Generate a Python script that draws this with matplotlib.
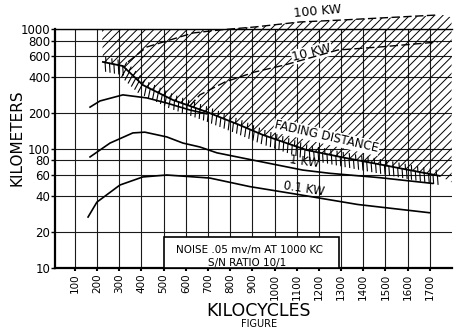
import matplotlib.pyplot as plt
import matplotlib.patheffects as pe
from matplotlib.patches import Rectangle
from matplotlib.ticker import NullLocator

# axis ticks
kc_ticks = [100, 200, 300, 400, 500, 600, 700, 800, 900, 1000,
            1100, 1200, 1300, 1400, 1500, 1600, 1700]
km_ticks = [10, 20, 40, 60, 80, 100, 200, 400, 600, 800, 1000]
km_labels = [str(v) for v in km_ticks]

# 10 kw ground wave range (solid, runs into the fading line)
kc_10kw = [168, 213, 316, 424, 514, 618, 695]
km_10kw = [222, 250, 281, 265, 240, 210, 195]

# 1 kw range
kc_1kw = [168, 258, 361, 415, 514, 587, 663, 740, 902, 1127, 1249, 1474, 1713]
km_1kw = [85, 111, 135, 137, 125, 111, 103, 92, 80, 66, 62, 57, 51]

# 0.1 kw range
kc_01kw = [159, 199, 303, 406, 514, 708, 888, 1114, 1375, 1699]
km_01kw = [26.7, 35.6, 49.5, 57.8, 60, 56.6, 48, 41, 34, 29]

# fading distance
kc_fade = [226, 316, 406, 541, 695, 843, 947, 1145, 1325, 1519, 1744]
km_fade = [530, 490, 340, 255, 202, 157, 130, 97, 83, 71, 59]

# ranges inside the fading zone (dashed)
kc_100kw = [339, 424, 528, 632, 753, 911, 1114, 1303, 1735]
km_100kw = [530, 707, 809, 926, 982, 1040, 1145, 1189, 1310]
kc_10kw_fz = [618, 663, 776, 911, 1046, 1285, 1474, 1735]
km_10kw_fz = [227, 281, 360, 437, 500, 667, 707, 778]

# upper outline of the shaded fading zone
kc_zone_top = [222, 800, 911, 1114, 1303, 1760, 1798, 1798]
km_zone_top = [1000, 1000, 1040, 1145, 1189, 1310, 1250, 52]

plt.rcParams['hatch.linewidth'] = 0.7

fig = plt.figure(figsize=(4.55, 3.3), dpi=100)
ax = fig.add_axes([55 / 455, 62 / 330, 397 / 455, 239 / 330])
ax.set_yscale('log')
ax.set_xlim(10, 1800)
ax.set_ylim(10, 1000)

ax.set_xticks(kc_ticks)
ax.set_xticklabels([str(v) for v in kc_ticks], rotation=90, fontsize=7.5)
ax.set_yticks(km_ticks)
ax.set_yticklabels(km_labels, fontsize=8.5)
ax.yaxis.set_minor_locator(NullLocator())
ax.tick_params(axis='x', length=2.5, width=1.5, pad=1.5)
ax.tick_params(axis='y', length=3, width=1, pad=0.5)
ax.grid(True, color='#1a1a1a', lw=0.8)
ax.set_axisbelow(True)

ax.spines['right'].set_visible(False)
ax.spines['top'].set_linewidth(1.0)
ax.spines['left'].set_linewidth(1.6)
ax.spines['bottom'].set_linewidth(1.6)

# shaded fading zone
ax.fill(kc_zone_top + kc_fade[::-1], km_zone_top + km_fade[::-1],
        facecolor='none', edgecolor='black', lw=0, hatch='////',
        clip_on=False, zorder=1)

# curves
ax.plot(kc_10kw, km_10kw, color='black', lw=1.2, zorder=4)
ax.plot(kc_1kw, km_1kw, color='black', lw=1.2, zorder=4)
ax.plot(kc_01kw, km_01kw, color='black', lw=1.2, zorder=4)
ax.plot(kc_100kw, km_100kw, color='black', lw=1.0, ls=(0, (6, 2.5)),
        clip_on=False, zorder=4)
ax.plot(kc_10kw_fz, km_10kw_fz, color='black', lw=1.0, ls=(0, (6, 2.5)),
        zorder=4)
ax.plot(kc_fade, km_fade, color='black', lw=1.3, zorder=4,
        path_effects=[pe.TickedStroke(angle=-75, spacing=3.2, length=2.0, linewidth=0.8),
                      pe.TickedStroke(angle=105, spacing=4.5, length=0.8, linewidth=0.8),
                      pe.Normal()])

# labels on the chart
white = dict(facecolor='white', edgecolor='none', pad=0.6)
ax.text(1195, 1400, '100 KW', fontsize=9, rotation=5, ha='center', va='center',
        clip_on=False, zorder=5)
ax.text(1168, 630, '10 KW', fontsize=9, rotation=14, ha='center', va='center',
        bbox=white, zorder=3)
ax.text(1235, 125, 'FADING DISTANCE', fontsize=8.5, rotation=-13, ha='center',
        va='center', bbox=white, zorder=3)
ax.text(1136, 78, '1 KW', fontsize=8.5, rotation=-8, ha='center', va='center',
        zorder=5)
ax.text(1132, 46, '0.1 KW', fontsize=8.5, rotation=-9, ha='center', va='center',
        zorder=5)

# note box
ax.add_patch(Rectangle((500, 10), 790, 8.2, facecolor='white', edgecolor='black',
                       lw=1.2, zorder=3))
ax.text(888, 14.2, 'NOISE .05 mv/m AT 1000 KC', fontsize=7.5, ha='center',
        va='center', zorder=4)
ax.text(875, 11.0, 'S/N RATIO 10/1', fontsize=7.5, ha='center', va='center', zorder=4)

fig.text(17 / 455, 1 - 138 / 330, 'KILOMETERS', rotation=90, fontsize=11,
         ha='center', va='center')
fig.text(259 / 455, 1 - 311 / 330, 'KILOCYCLES', fontsize=12.5, ha='center', va='center')
fig.text(259 / 455, 1 / 330, 'FIGURE', fontsize=7, ha='center', va='bottom')

fig.savefig('out.png', dpi=100)
